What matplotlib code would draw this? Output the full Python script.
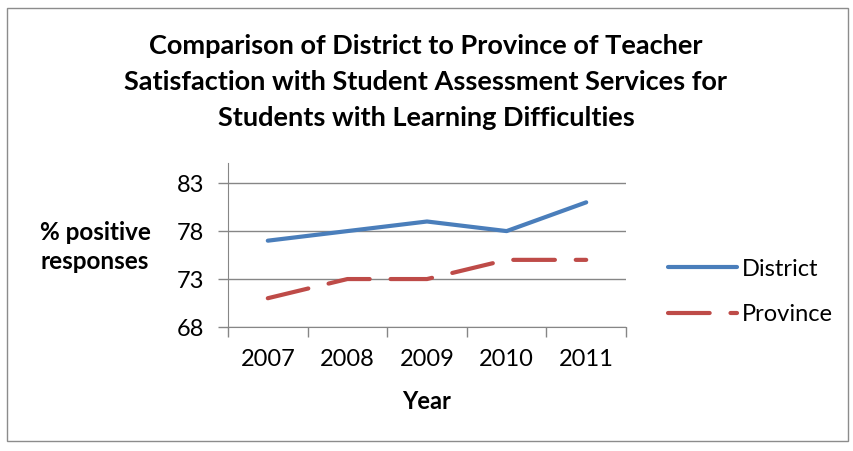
import matplotlib
matplotlib.use("Agg")
import matplotlib.pyplot as plt
from matplotlib.patches import Rectangle

years = ["2007", "2008", "2009", "2010", "2011"]
district = [77, 78, 79, 78, 81]
province = [71, 73, 73, 75, 75]
y_ticks = [68, 73, 78, 83]

title_lines = ["Comparison of District to Province of Teacher",
               "Satisfaction with Student Assessment Services for",
               "Students with Learning Difficulties"]

plt.rcParams["font.family"] = ["Lato", "DejaVu Sans"]

fig = plt.figure(figsize=(8.54, 4.51), dpi=100)
fig.patch.set_facecolor("white")
fig.patches.append(Rectangle((7 / 854, 10 / 451), 841 / 854, 433 / 451,
                             transform=fig.transFigure, fill=False,
                             edgecolor="#8c8c8c", linewidth=1.0))

ax = fig.add_axes([228 / 854, 1 - 327 / 451, 398 / 854, 164 / 451])
x = list(range(len(years)))
ax.plot(x, district, color="#4a7ebb", lw=3, solid_capstyle="round",
        solid_joinstyle="round", label="District")
ax.plot(x, province, color="#be4b48", lw=3, ls=(0, (10, 5)),
        dash_capstyle="round", label="Province")

ax.set_xlim(-0.5, len(years) - 0.5)
ax.set_ylim(68, 85.1)
ax.set_yticks(y_ticks)
ax.set_yticklabels([str(v) for v in y_ticks], fontsize=17)
ax.set_xticks([i - 0.5 for i in range(len(years) + 1)], minor=False)
ax.set_xticklabels([])
ax.set_xticks(x, minor=True)
ax.set_xticklabels(years, minor=True, fontsize=17)
ax.tick_params(axis="x", which="minor", length=0, pad=16)
ax.tick_params(axis="x", which="major", length=7, color="#868686", width=1)
ax.tick_params(axis="y", length=7, color="#868686", width=1, pad=10)
ax.grid(axis="y", color="#868686", lw=1)
ax.set_axisbelow(True)
for side in ("top", "right"):
    ax.spines[side].set_visible(False)
for side in ("left", "bottom"):
    ax.spines[side].set_color("#868686")

ax.set_xlabel("Year", fontsize=17, fontweight="bold", labelpad=14)
fig.text(95 / 854, 1 - 247 / 451, "% positive\nresponses", fontsize=17.5,
         fontweight="bold", ha="center", va="center", linespacing=1.3)
# title lines placed one by one for even spacing
for i, line in enumerate(title_lines):
    fig.text(426 / 854, 1 - (46 + 36 * i) / 451, line, fontsize=19.5,
             fontweight="bold", ha="center", va="center")

fig.legend(loc="center left", bbox_to_anchor=(647 / 854, 1 - 292 / 451),
           frameon=False, fontsize=17, handlelength=2.9, handletextpad=0.2,
           labelspacing=1.05)

fig.savefig("out.png", dpi=100)
